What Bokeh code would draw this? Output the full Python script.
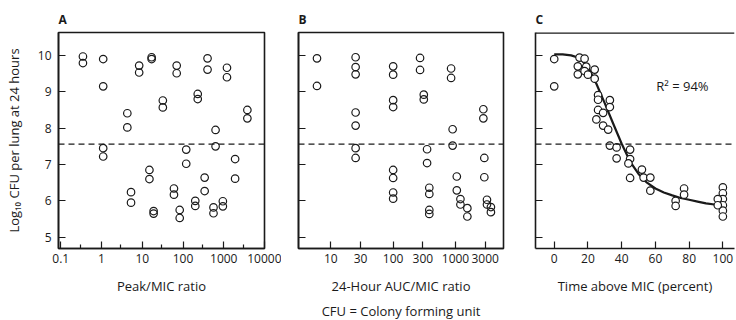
from bokeh.plotting import figure
from bokeh.models import FixedTicker, CustomJSTickFormatter, Span, Label, Title, Range1d
from bokeh.layouts import row
from bokeh.embed import file_html
from bokeh.resources import INLINE

# ---------------- data ----------------
# Panel A: Peak/MIC ratio vs log10 CFU
A_x = [0.35, 0.35, 1.1, 1.1, 1.1, 1.1, 4.3, 4.3, 5.3, 5.3, 8.4, 8.4, 15, 15, 17, 17,
       19, 19, 32, 32, 70, 70, 60, 60, 83, 83, 120, 120, 230, 230, 200, 200,
       340, 340, 400, 400, 630, 630, 560, 560, 950, 950, 1200, 1200, 1900, 1900, 3800, 3800]
A_y = [9.97, 9.79, 9.9, 9.15, 7.45, 7.22, 8.41, 8.02, 6.24, 5.95, 9.72, 9.53, 6.85, 6.6, 9.95, 9.9,
       5.72, 5.65, 8.76, 8.57, 9.72, 9.51, 6.34, 6.17, 5.75, 5.53, 7.41, 7.02, 8.94, 8.8, 6.0, 5.86,
       6.64, 6.27, 9.92, 9.61, 7.95, 7.5, 5.82, 5.66, 5.99, 5.85, 9.66, 9.4, 7.15, 6.61, 8.5, 8.27]

# Panel B: 24-hour AUC/MIC ratio vs log10 CFU
B_x = [6, 6, 25, 25, 25, 25, 25, 25, 25, 100, 100, 100, 100, 100, 100, 100, 100,
       270, 270, 310, 310, 350, 350, 380, 380, 380, 380, 850, 850, 900, 900, 1050, 1050,
       1200, 1200, 1550, 1550, 2800, 2800, 2900, 2900, 3200, 3200, 3700, 3700]
B_y = [9.92, 9.16, 9.95, 9.68, 9.48, 8.43, 8.07, 7.45, 7.18, 9.7, 9.47, 8.77, 8.58, 6.85, 6.63, 6.23, 6.06,
       9.93, 9.6, 8.92, 8.79, 7.42, 7.04, 6.36, 6.19, 5.75, 5.64, 9.64, 9.38, 7.97, 7.52, 6.67, 6.29,
       6.05, 5.9, 5.8, 5.57, 8.52, 8.27, 7.18, 6.65, 6.03, 5.9, 5.83, 5.69]

# Panel C: time above MIC (percent) vs log10 CFU
C_x = [0, 0, 15, 18, 14, 14, 19, 18, 20, 24, 24, 26, 26, 26, 33, 33, 29, 25, 29, 32, 33, 37, 37,
       45, 45, 44, 45, 52, 53, 57, 57, 72, 72, 77, 77, 100, 100, 100, 100, 100, 100, 97, 97]
C_y = [9.9, 9.15, 9.94, 9.91, 9.7, 9.48, 9.69, 9.57, 9.47, 9.61, 9.36, 8.91, 8.78, 8.5, 8.77, 8.58,
       8.42, 8.24, 8.07, 7.96, 7.52, 7.47, 7.17, 7.41, 7.15, 7.03, 6.63, 6.86, 6.64, 6.64, 6.28,
       6.0, 5.86, 6.34, 6.17, 6.37, 6.21, 6.05, 5.88, 5.73, 5.57, 6.05, 5.88]

# Fitted curve in panel C
FIT_x = [0, 5, 10, 15, 20, 25, 30, 35, 40, 45, 50, 55, 60, 65, 70, 75, 80, 85, 90, 95, 100]
FIT_y = [10.03, 10.03, 10.0, 9.93, 9.68, 9.22, 8.68, 8.12, 7.57, 7.08, 6.74, 6.5, 6.34, 6.23,
         6.15, 6.08, 6.03, 5.98, 5.93, 5.9, 5.87]

THRESHOLD = 7.56
R2_TEXT = "R² = 94%"

Y_TICKS = [5, 6, 7, 8, 9, 10]
A_TICKS = [0.1, 1, 10, 100, 1000, 10000]
A_MINOR = [0.3, 3, 30, 300, 3000]
B_TICKS = [10, 30, 100, 300, 1000, 3000]
C_TICKS = [0, 20, 40, 60, 80, 100]

Y_LABEL = "Log₁₀ CFU per lung at 24 hours"
A_XLABEL = "Peak/MIC ratio"
B_XLABEL = "24-Hour AUC/MIC ratio"
C_XLABEL = "Time above MIC (percent)"
FOOTER = "CFU = Colony forming unit"

# ---------------- styling ----------------
FONT = "Open Sans"
INK = "#1a1a1a"
Y_START, Y_END = 4.69, 10.63


def make_fig(x_type, x_start, x_end, frame_w, bl, br, letter, outline=True):
    p = figure(x_axis_type=x_type, x_range=Range1d(x_start, x_end),
               y_range=Range1d(Y_START, Y_END),
               frame_width=frame_w, frame_height=216,
               min_border_left=bl, min_border_right=br,
               min_border_top=32, min_border_bottom=72,
               output_backend="svg", toolbar_location=None,
               background_fill_color="white", border_fill_color="white")
    p.xgrid.visible = False
    p.ygrid.visible = False
    if outline:
        p.outline_line_color = INK
        p.outline_line_width = 1.6
    else:
        p.outline_line_color = None
        p.add_layout(Span(location=Y_END, dimension="width", line_color=INK, line_width=2.4))
    p.title.text = letter
    p.title.text_font = FONT
    p.title.text_font_size = "12px"
    p.title.text_font_style = "bold"
    p.title.text_color = INK
    p.title.align = "left"
    p.title.standoff = 10
    for ax in (p.xaxis[0], p.yaxis[0]):
        ax.axis_line_color = INK
        ax.axis_line_width = 1.6
        ax.major_tick_line_color = INK
        ax.major_tick_line_width = 1.2
        ax.major_tick_out = 0
        ax.major_tick_in = 7
        ax.minor_tick_out = 0
        ax.minor_tick_in = 4
        ax.minor_tick_line_color = None
        ax.major_label_text_font = FONT
        ax.major_label_text_font_size = "12px"
        ax.major_label_text_color = INK
        ax.axis_label_text_font = FONT
        ax.axis_label_text_font_size = "13px"
        ax.axis_label_text_font_style = "normal"
        ax.axis_label_text_color = INK
    p.yaxis.ticker = FixedTicker(ticks=Y_TICKS)
    p.xaxis.major_label_standoff = 5
    p.yaxis.major_label_standoff = 7
    p.xaxis.axis_label_standoff = 11
    p.add_layout(Span(location=THRESHOLD, dimension="width", line_color=INK,
                      line_width=1.3, line_dash="6 4"))
    return p


num_fmt = CustomJSTickFormatter(code="return String(tick);")
blank_fmt = CustomJSTickFormatter(code="return '';")

# Panel A
pA = make_fig("log", 0.088, 10000, 206, 58, 17, "A")
pA.xaxis.ticker = FixedTicker(ticks=A_TICKS, minor_ticks=A_MINOR)
pA.xaxis.minor_tick_line_color = INK
pA.xaxis.minor_tick_line_width = 1.2
pA.xaxis.formatter = num_fmt
pA.xaxis.axis_label = A_XLABEL
pA.yaxis.axis_label = Y_LABEL
pA.yaxis.axis_label_standoff = 12
pA.scatter(A_x, A_y, size=7.5, fill_color=None, line_color=INK, line_width=1.2)

# Panel B
pB = make_fig("log", 3.03, 5890, 205, 17, 15, "B")
pB.xaxis.ticker = FixedTicker(ticks=B_TICKS)
pB.xaxis.formatter = num_fmt
pB.xaxis.axis_label = B_XLABEL
pB.yaxis.formatter = blank_fmt
pB.scatter(B_x, B_y, size=7.5, fill_color=None, line_color=INK, line_width=1.2)
pB.add_layout(Title(text=FOOTER, align="center", text_font=FONT, text_font_size="13px",
                    text_font_style="normal", text_color=INK, standoff=4), "below")

# Panel C
pC = make_fig("linear", -11.1, 106.9, 199, 17, 1, "C", outline=False)
pC.xaxis.ticker = FixedTicker(ticks=C_TICKS)
pC.xaxis.formatter = num_fmt
pC.xaxis.axis_label = C_XLABEL
pC.yaxis.formatter = blank_fmt
pC.line(FIT_x, FIT_y, line_color=INK, line_width=2.2)
pC.scatter(C_x, C_y, size=7.5, fill_color="white", line_color=INK, line_width=1.2)
pC.add_layout(Label(x=76, y=9.17, text=R2_TEXT, text_font=FONT, text_font_size="13px",
                    text_color=INK, text_align="center", text_baseline="middle"))

layout = row(pA, pB, pC, spacing=0)
open("out.html", "w").write(file_html(layout, INLINE))
